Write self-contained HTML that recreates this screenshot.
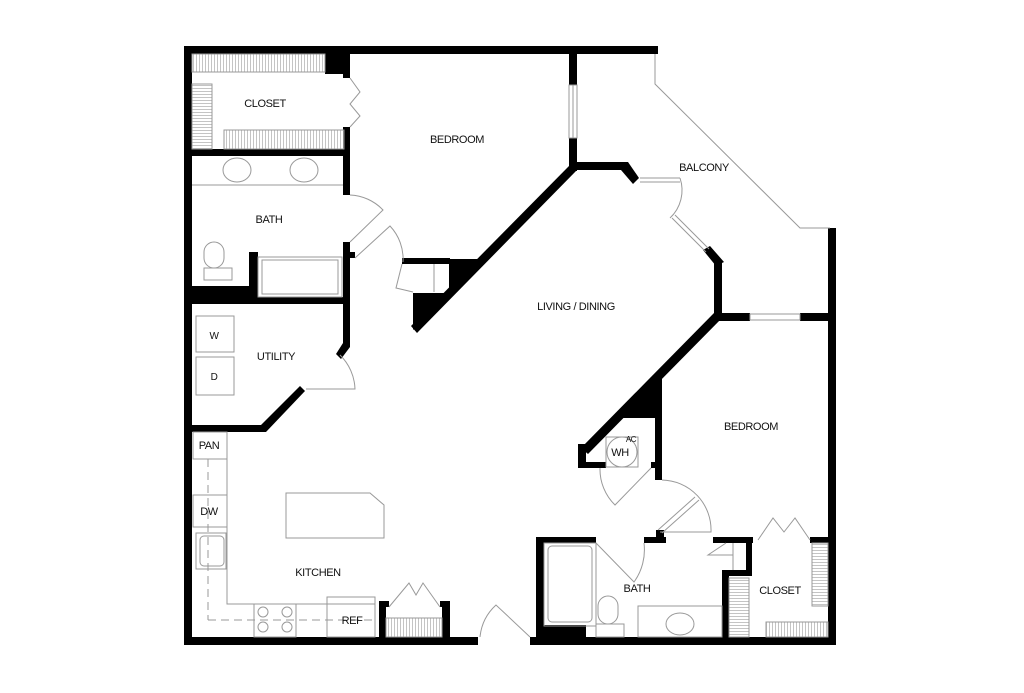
<!DOCTYPE html>
<html><head><style>
html,body{margin:0;padding:0;background:#fff;}
svg{display:block}
text{font-family:"Liberation Sans",sans-serif;font-size:11px;fill:#111;text-anchor:middle;letter-spacing:-0.4px}
.t{fill:none;stroke:#999;stroke-width:1}
</style></head><body>
<svg width="1024" height="693" viewBox="0 0 1024 693" xmlns="http://www.w3.org/2000/svg">
<defs>
<pattern id="hv" width="3" height="10" patternUnits="userSpaceOnUse"><line x1="1.5" y1="0" x2="1.5" y2="10" stroke="#aaa" stroke-width="0.7"/></pattern>
<pattern id="hh" width="10" height="3" patternUnits="userSpaceOnUse"><line x1="0" y1="1.5" x2="10" y2="1.5" stroke="#aaa" stroke-width="0.7"/></pattern>
</defs>
<g fill="#000">
<rect x="184" y="46" width="474" height="8"/>
<rect x="184" y="46" width="8" height="599"/>
<rect x="184" y="637" width="294" height="8"/>
<rect x="530" y="637" width="306" height="8"/>
<rect x="828" y="228" width="8" height="417"/>
<rect x="192" y="149" width="156" height="7"/>
<rect x="325" y="54" width="22" height="20"/>
<rect x="343" y="54" width="7" height="24"/>
<rect x="343" y="127" width="7" height="68"/>
<rect x="343" y="242" width="7" height="61"/>
<rect x="343" y="252" width="12" height="6"/>
<rect x="192" y="286" width="58" height="17"/>
<rect x="249" y="252" width="9" height="45"/>
<rect x="192" y="297" width="158" height="7"/>
<rect x="343" y="303" width="7" height="44"/>
<polygon points="343,343 350,347 341,359 336,354"/>
<rect x="192" y="425" width="74" height="7"/>
<polygon points="261,425 300,386 305,391 266,432"/>
<rect x="569" y="54" width="8" height="31"/>
<rect x="569" y="138" width="8" height="33"/>
<polygon points="569,166 577,170 417,333 411,326"/>
<polygon points="449,259 482,259 413,330 413,293 449,293"/>
<rect x="402" y="258" width="48" height="6"/>
<rect x="573" y="162" width="53" height="8"/>
<polygon points="622,162 628,162 639,178 633,184 621,170"/>
<polygon points="703,250 710,246 724,262 716,266"/>
<rect x="714" y="262" width="8" height="59"/>
<rect x="714" y="313" width="36" height="8"/>
<rect x="800" y="313" width="36" height="8"/>
<polygon points="714,313 722,318 588,454 581,448"/>
<polygon points="620,418 655,378 662,378 662,418"/>
<rect x="655" y="378" width="7" height="102"/>
<rect x="578" y="444" width="8" height="24"/>
<rect x="578" y="462" width="28" height="6"/>
<rect x="651" y="462" width="8" height="6"/>
<rect x="536" y="537" width="8" height="100"/>
<rect x="536" y="537" width="60" height="6"/>
<rect x="644" y="537" width="22" height="6"/>
<rect x="656" y="530" width="8" height="13"/>
<rect x="536" y="625" width="50" height="12"/>
<rect x="713" y="537" width="40" height="6"/>
<rect x="810" y="537" width="26" height="6"/>
<rect x="722" y="570" width="7" height="67"/>
<rect x="722" y="570" width="30" height="6"/>
<rect x="746" y="537" width="6" height="39"/>
<rect x="379" y="601" width="7" height="36"/>
<rect x="379" y="601" width="10" height="6"/>
<rect x="442" y="601" width="8" height="36"/>
<rect x="440" y="601" width="10" height="6"/>
</g>
<!-- hatched shelves -->
<rect x="192" y="54" width="133" height="18" fill="url(#hv)"/>
<rect x="192" y="84" width="20" height="65" fill="url(#hh)"/>
<rect x="224" y="130" width="120" height="19" fill="url(#hv)"/>
<rect x="386" y="618" width="56" height="19" fill="url(#hv)"/>
<rect x="729" y="578" width="20" height="59" fill="url(#hh)"/>
<rect x="812" y="543" width="16" height="63" fill="url(#hh)"/>
<rect x="766" y="622" width="62" height="15" fill="url(#hv)"/>
<g class="t">
<polyline points="655,54 655,84 800,228 830,228"/>
<rect x="569" y="85" width="8" height="53"/>
<line x1="573" y1="85" x2="573" y2="138"/>
<rect x="750" y="314" width="50" height="6"/>
<line x1="640" y1="178" x2="680" y2="178"/><line x1="640" y1="182" x2="680" y2="182"/>
<polyline points="672,218 706,252"/><polyline points="675,215 709,249"/>
<path d="M680,178 A38,38 0 0 1 670,218"/>
<rect x="192" y="54" width="133" height="18"/>
<rect x="192" y="84" width="20" height="65"/>
<rect x="224" y="130" width="120" height="19"/>
<polyline points="350,78 360,92 350,104 360,116 350,127"/>
<line x1="192" y1="185" x2="343" y2="185"/>
<ellipse cx="237" cy="170" rx="14" ry="12"/><ellipse cx="304" cy="170" rx="14" ry="12"/>
<rect x="258" y="257" width="84" height="40"/><rect x="262" y="260" width="76" height="34"/>
<rect x="204" y="242" width="20" height="26" rx="10"/>
<rect x="204" y="268" width="28" height="12"/>
<path d="M350,195 A48,48 0 0 1 383,210 L350,242"/>
<path d="M355,258 L390,226 A48,48 0 0 1 403,262"/>
<path d="M402,264 L396,288 L413,292"/>
<line x1="434" y1="264" x2="434" y2="292"/>
<rect x="196" y="316" width="38" height="36"/><rect x="196" y="357" width="38" height="38"/>
<path d="M306,389 L355,389 A50,50 0 0 0 340,355"/>
<rect x="193" y="432" width="34" height="27"/>
<polyline points="227,432 227,604 375,604"/>
<rect x="193" y="495" width="34" height="32"/>
<rect x="196" y="533" width="30" height="36"/>
<rect x="200" y="536" width="24" height="30" rx="4"/>
<line x1="208" y1="459" x2="208" y2="620" stroke-dasharray="8,5"/>
<line x1="208" y1="620" x2="375" y2="620" stroke-dasharray="8,5"/>
<rect x="254" y="604" width="42" height="33"/>
<circle cx="263" cy="612" r="5"/><circle cx="287" cy="612" r="5"/><circle cx="263" cy="627" r="5"/><circle cx="287" cy="627" r="5"/>
<rect x="327" y="597" width="48" height="40"/>
<polygon points="286,493 370,493 384,505 384,538 286,538"/>
<rect x="386" y="618" width="56" height="19"/>
<polyline points="389,607 409,583 416,595 423,583 440,607"/>
<path d="M480,637 A50,50 0 0 1 496,605 L530,637"/>
<rect x="606" y="437" width="32" height="30"/><circle cx="622" cy="452" r="15"/>
<path d="M600,468 A50,50 0 0 0 615,505 L651,468"/>
<path d="M662,480 A50,50 0 0 1 711,532 L660,532"/>
<polyline points="658,530 695,497"/><polyline points="662,533 699,500"/>
<rect x="544" y="543" width="52" height="83"/><rect x="548" y="546" width="44" height="76" rx="4"/>
<path d="M596,543 L634,582 A55,55 0 0 0 644,543"/>
<rect x="596" y="624" width="28" height="13"/><rect x="598" y="596" width="20" height="28" rx="10"/>
<rect x="638" y="606" width="84" height="31"/><ellipse cx="680" cy="624" rx="14" ry="11"/>
<path d="M733,555 L708,555 L726,543"/>
<line x1="733" y1="543" x2="733" y2="570"/>
<rect x="729" y="578" width="20" height="59"/>
<rect x="812" y="543" width="16" height="63"/>
<rect x="766" y="622" width="62" height="15"/>
<polyline points="758,540 773,518 784,532 795,518 810,540"/>
</g>
<text x="265" y="107">CLOSET</text>
<text x="457" y="143">BEDROOM</text>
<text x="269" y="223">BATH</text>
<text x="276" y="360">UTILITY</text>
<text x="214" y="339" style="font-size:10px">W</text>
<text x="214" y="380" style="font-size:10px">D</text>
<text x="209" y="449">PAN</text>
<text x="209" y="515">DW</text>
<text x="318" y="576">KITCHEN</text>
<text x="352" y="624">REF</text>
<text x="576" y="310">LIVING / DINING</text>
<text x="704" y="171">BALCONY</text>
<text x="751" y="430">BEDROOM</text>
<text x="620" y="456">WH</text>
<text x="631" y="442" style="font-size:8px">AC</text>
<text x="637" y="592">BATH</text>
<text x="780" y="594">CLOSET</text>
</svg>
</body></html>
